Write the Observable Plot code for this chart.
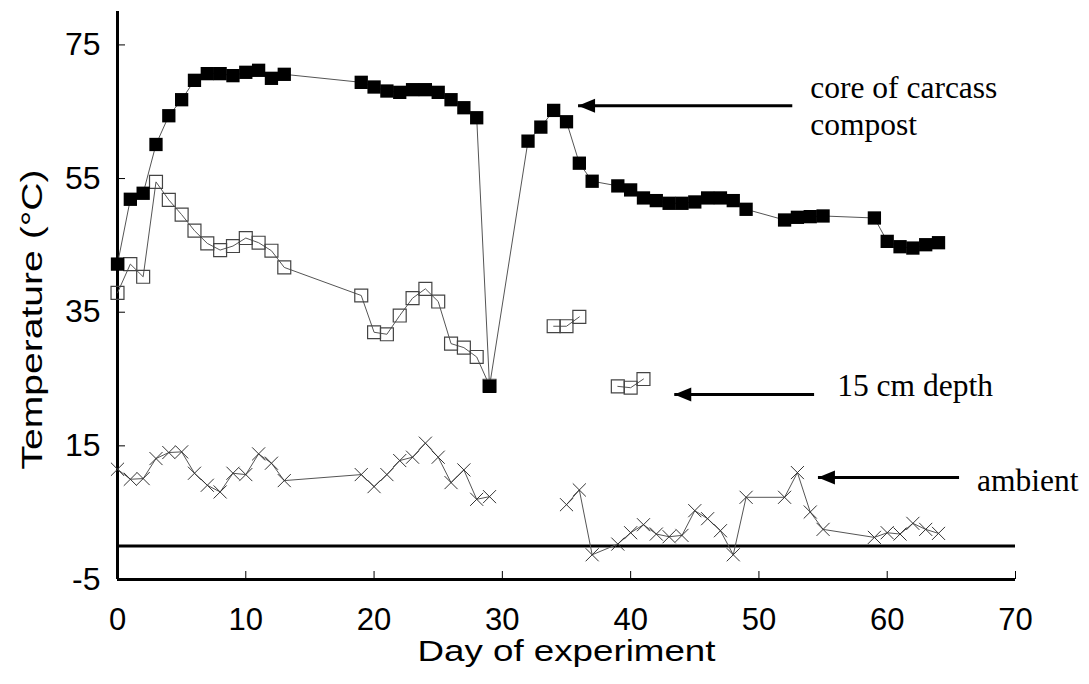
<!DOCTYPE html>
<html>
<head>
<meta charset="utf-8">
<script src="https://cdn.jsdelivr.net/npm/d3@7"></script>
<script src="https://cdn.jsdelivr.net/npm/@observablehq/plot@0.6"></script>
<style>
  html, body { margin: 0; padding: 0; background: #fff; }
  #chart svg { display: block; }
</style>
</head>
<body>
<div id="chart"></div>
<script>
// ---- Data ----
const coreDays = [0,1,2,3,4,5,6,7,8,9,10,11,12,13,19,20,21,22,23,24,25,26,27,28,29,32,33,34,35,36,37,39,40,41,42,43,44,45,46,47,48,49,52,53,54,55,59,60,61,62,63,64];
const coreTemps = [42.2,51.9,52.8,60.1,64.4,66.8,69.7,70.7,70.7,70.4,70.9,71.2,70.0,70.6,69.4,68.7,68.1,67.9,68.3,68.3,67.9,66.8,65.6,64.1,23.9,60.6,62.7,65.2,63.5,57.3,54.6,53.9,53.3,52.1,51.7,51.3,51.3,51.5,52.1,52.1,51.7,50.4,48.8,49.2,49.3,49.4,49.1,45.6,44.8,44.6,45.1,45.4];

const depthDays = [0,1,2,3,4,5,6,7,8,9,10,11,12,13,19,20,21,22,23,24,25,26,27,28,29,34,35,36,39,40,41];
const depthTemps = [37.9,42.2,40.3,54.5,51.8,49.6,47.2,45.3,44.3,44.9,46.1,45.4,44.2,41.7,37.5,32.0,31.7,34.5,37.1,38.5,36.6,30.3,29.7,28.3,24.0,32.9,32.9,34.3,23.9,23.7,25.0];
const depthBreaks = [34, 39];   // days where a new, unconnected segment starts

const ambientDays = [0,1,2,3,4,5,6,7,8,9,10,11,12,13,19,20,21,22,23,24,25,26,27,28,29,35,36,37,39,40,41,42,43,44,45,46,47,48,49,52,53,54,55,59,60,61,62,63,64];
const ambientTemps = [11.5,10.0,10.1,13.1,14.0,14.1,10.9,9.1,8.1,10.9,10.7,13.8,12.4,9.8,10.7,8.9,10.7,12.8,13.3,15.4,13.3,9.5,11.4,7.0,7.4,6.2,8.4,-1.3,0.3,2.0,3.2,1.8,1.4,1.6,5.3,4.1,2.3,-1.3,7.3,7.3,11.0,5.1,2.5,1.3,2.0,1.8,3.4,2.5,1.9];
const ambientBreaks = [35];

const xTicks = [0,10,20,30,40,50,60,70];
const yTicks = [-5,15,35,55,75];
const xTitle = "Day of experiment";
const yTitle = "Temperature (°C)";

// annotation labels (data coordinates)
const labelTexts = ["core of carcass", "compost", "15 cm depth", "ambient"];
const labelDays  = [54.0, 54.0, 56.1, 67.0];
const labelTemps = [68.5, 63.1, 24.0, 9.7];

// annotation arrows (tail day -> tip day at a temperature)
const arrowTailDays = [52.6, 54.3, 65.6];
const arrowTipDays  = [35.9, 43.4, 54.6];
const arrowTemps    = [65.9, 22.7, 10.25];

// ---- Build tables ----
const seg = (breaks) => (d) => breaks.filter(b => d >= b).length;
const core = coreDays.map((d, i) => ({day: d, temp: coreTemps[i]}));
const depth = depthDays.map((d, i) => ({day: d, temp: depthTemps[i], seg: seg(depthBreaks)(d)}));
const ambient = ambientDays.map((d, i) => ({day: d, temp: ambientTemps[i], seg: seg(ambientBreaks)(d)}));
const labels = labelTexts.map((t, i) => ({text: t, day: labelDays[i], temp: labelTemps[i]}));
const arrows = arrowTailDays.map((d, i) => ({tail: d, tip: arrowTipDays[i], temp: arrowTemps[i]}));

const arrowHead = {
  draw(ctx) {
    ctx.moveTo(0, 0);
    ctx.lineTo(17, -7);
    ctx.lineTo(17, 7);
    ctx.closePath();
  }
};

const lineColor = "#555";
const fmt = d => String(d);

const chart = Plot.plot({
  width: 1089,
  height: 684,
  marginLeft: 117,
  marginRight: 74,
  marginTop: 11,
  marginBottom: 105,
  style: {fontFamily: "'Liberation Sans', Arial, sans-serif", background: "#fff", color: "#000"},
  x: {domain: [0, 70], axis: null},
  y: {domain: [-5, 80], axis: null},
  marks: [
    // axes frame lines
    Plot.ruleX([0], {strokeWidth: 3}),
    Plot.ruleY([-5], {strokeWidth: 3}),
    Plot.ruleY([0], {strokeWidth: 3}),
    // inward ticks
    Plot.tickY(yTicks, {y: d => d, insetRight: 890, strokeWidth: 1}),
    Plot.tickX(xTicks, {x: d => d, insetTop: 560, strokeWidth: 1}),
    // tick labels
    Plot.axisY(yTicks, {anchor: "left", tickSize: 0, tickPadding: 17, fontSize: 32, tickFormat: fmt, label: null}),
    Plot.axisX(xTicks, {anchor: "bottom", tickSize: 0, tickPadding: 28, fontSize: 31, tickFormat: fmt, label: null}),
    // axis titles
    Plot.text([xTitle], {text: d => d, frameAnchor: "bottom", textAnchor: "middle", dy: 72, fontSize: 30, lineAnchor: "middle"}),
    Plot.text([yTitle], {text: d => d, frameAnchor: "left", textAnchor: "middle", rotate: -90, dx: -85, dy: 24, fontSize: 30, lineAnchor: "middle"}),
    // series lines
    Plot.line(ambient, {x: "day", y: "temp", z: "seg", stroke: lineColor, strokeWidth: 1}),
    Plot.line(depth, {x: "day", y: "temp", z: "seg", stroke: lineColor, strokeWidth: 1}),
    Plot.line(core, {x: "day", y: "temp", stroke: lineColor, strokeWidth: 1}),
    // series markers
    Plot.dot(ambient, {x: "day", y: "temp", symbol: "times", r: 6, stroke: "#333", strokeWidth: 1}),
    Plot.dot(depth, {x: "day", y: "temp", symbol: "square", r: 7.3, fill: "none", stroke: "#444", strokeWidth: 1.2}),
    Plot.dot(core, {x: "day", y: "temp", symbol: "square", r: 7.5, fill: "#000", stroke: "none"}),
    // annotations
    Plot.link(arrows, {x1: "tail", x2: "tip", y1: "temp", y2: "temp", stroke: "#000", strokeWidth: 3}),
    Plot.dot(arrows, {x: "tip", y: "temp", symbol: arrowHead, fill: "#000", stroke: "none", r: 5}),
    Plot.text(labels, {x: "day", y: "temp", text: "text", textAnchor: "start", lineAnchor: "middle", fontSize: 31.5, fontFamily: "'Liberation Serif', 'Times New Roman', serif", fill: "#000"})
  ]
});

// stretch the axis titles along their direction, as in the reference
for (const t of chart.querySelectorAll("text")) {
  const s = t.textContent;
  if (s === xTitle) { t.setAttribute("textLength", 298); t.setAttribute("lengthAdjust", "spacingAndGlyphs"); }
  if (s === yTitle) { t.setAttribute("textLength", 300); t.setAttribute("lengthAdjust", "spacingAndGlyphs"); }
}

document.getElementById("chart").appendChild(chart);
</script>
</body>
</html>
